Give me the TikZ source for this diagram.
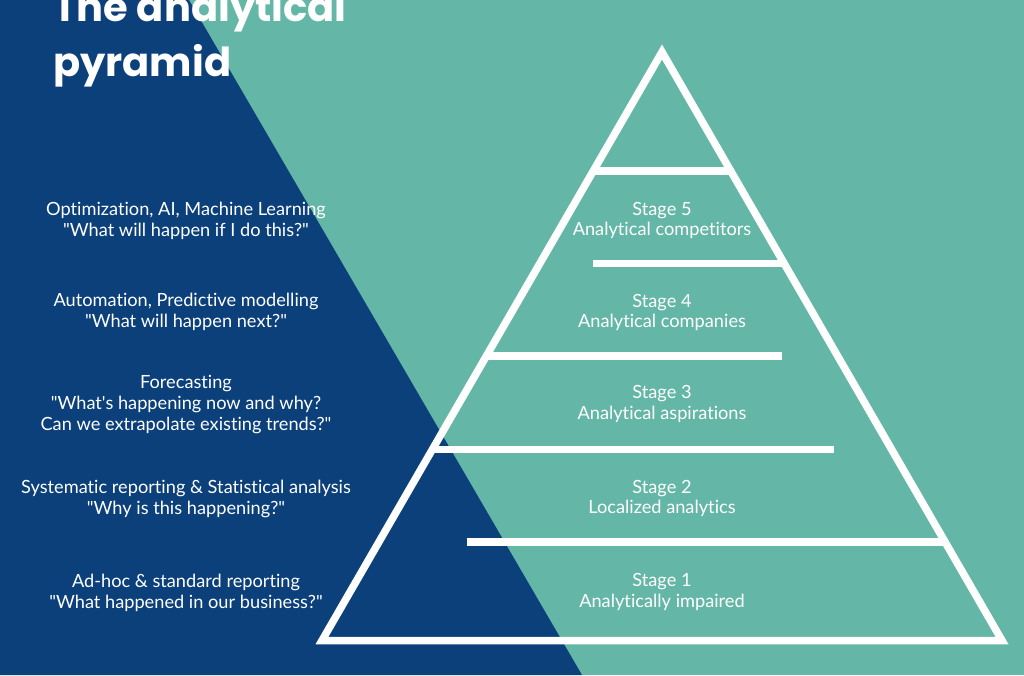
\documentclass[tikz,border=0pt]{standalone}
\usepackage{fontspec}
\setmainfont{Lato}[Ligatures={TeXOff,NoCommon}]
\newfontfamily\titlefont{Poppins}
\definecolor{darkblue}{RGB}{11,64,123}
\definecolor{tealbg}{RGB}{100,183,167}
\begin{document}
\begin{tikzpicture}[x=1pt,y=-1pt,
  pyr/.style={draw=white, line width=7.5pt},
  txt/.style={text=white, anchor=base, inner sep=0pt, font=\fontsize{18.2}{21}\selectfont},
  ttl/.style={text=white, anchor=base west, inner sep=0pt, font=\titlefont\bfseries\fontsize{40}{50}\selectfont}]
\useasboundingbox (0,0) rectangle (1024,675);
\clip (0,0) rectangle (1024,675);
\fill[tealbg] (0,0) rectangle (1024,675);
\fill[darkblue] (0,0) -- (189,0) -- (582,675) -- (0,675) -- cycle;
% title
\node[ttl] (t1) at (53,21.7) {The analytical};
\node[ttl] (t2) at (53,76) {pyramid};
% pyramid
\coordinate (apex) at (662,52);
\coordinate (bl) at (322,640.5);
\coordinate (br) at (1002,640.5);
\draw[pyr, line join=miter] (apex) -- (bl) -- (br) -- cycle;
\draw[pyr] (593.25,171) -- (730.75,171);
\draw[pyr] (593.3,263.3) -- (784.1,263.3);
\draw[pyr] (486.4,356) -- (781.7,356);
\draw[pyr] (432.5,449.3) -- (834.3,449.3);
\draw[pyr] (466.5,542.2) -- (945.2,542.2);
% left texts
\node[txt] (l5a) at (186,215) {Optimization, AI, Machine Learning};
\node[txt] (l5b) at (186,236) {"What will happen if I do this?"};
\node[txt] (l4a) at (186,306.7) {Automation, Predictive modelling};
\node[txt] (l4b) at (186,327.3) {"What will happen next?"};
\node[txt] (l3a) at (186,388) {Forecasting};
\node[txt] (l3b) at (186,409) {"What's happening now and why?};
\node[txt] (l3c) at (186,430) {Can we extrapolate existing trends?"};
\node[txt] (l2a) at (186,493) {Systematic reporting \& Statistical analysis};
\node[txt] (l2b) at (186,514) {"Why is this happening?"};
\node[txt] (l1a) at (186,587) {Ad-hoc \& standard reporting};
\node[txt] (l1b) at (186,608) {"What happened in our business?"};
% stage texts
\node[txt] (s5a) at (662,215.7) {Stage 5};
\node[txt] (s5b) at (662,235.7) {Analytical competitors};
\node[txt] (s4a) at (662,307.3) {Stage 4};
\node[txt] (s4b) at (662,327.3) {Analytical companies};
\node[txt] (s3a) at (662,398.5) {Stage 3};
\node[txt] (s3b) at (662,419) {Analytical aspirations};
\node[txt] (s2a) at (662,493.3) {Stage 2};
\node[txt] (s2b) at (662,513.3) {Localized analytics};
\node[txt] (s1a) at (662,586.7) {Stage 1};
\node[txt] (s1b) at (662,607.7) {Analytically impaired};
\end{tikzpicture}
\end{document}
